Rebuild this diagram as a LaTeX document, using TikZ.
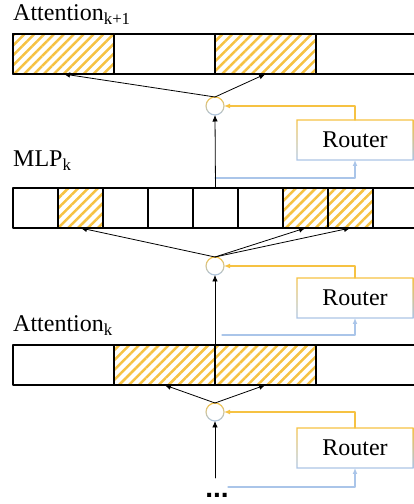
\documentclass[tikz,border=0pt]{standalone}
\usepackage{fontspec}
\setmainfont{Liberation Serif}
\newfontfamily\dotfont{Liberation Sans}
\usetikzlibrary{arrows.meta,patterns.meta}

\definecolor{gold}{RGB}{246,194,67}
\definecolor{skyline}{RGB}{170,197,233}

\begin{document}
\begin{tikzpicture}[
			x=1pt, y=1pt,
			every node/.style={font=\fontsize{24}{28}\selectfont},
			cell/.style={draw, line width=1.1pt, minimum height=40pt, inner sep=0pt, outer sep=0pt},
			hot/.style={pattern={Lines[angle=45,distance=7pt,line width=2.5pt]}, pattern color=gold},
			gate/.style={circle, minimum size=18pt, inner sep=0pt, outer sep=0pt},
			router/.style={minimum width=116pt, minimum height=40pt, inner sep=0pt, outer sep=0pt},
			arr/.style={-{Latex[length=6.5pt,width=5.5pt]}, line width=0.8pt},
			goldarr/.style={-{Latex[length=6pt,width=5pt]}, gold, line width=1.2pt},
			bluearr/.style={-{Latex[length=6pt,width=5pt]}, skyline, line width=1.2pt},
			line cap=round,
			line join=round
			]
			\useasboundingbox (0,0) rectangle (414,504);
			\clip (0,0) rectangle (414,504);
			
			% Layer labels
			\node[anchor=base west, inner sep=0pt] (lab1) at (13,483) {Attention\textsubscript{k+1}};
			\node[anchor=base west, inner sep=0pt] (lab2) at (13,337) {MLP\textsubscript{k}};
			\node[anchor=base west, inner sep=0pt] (lab3) at (13,172) {Attention\textsubscript{k}};
			
			% Attention k+1 heads
			\foreach \i in {1,...,4}
			\node[cell, minimum width=101pt] (a\i) at ({13+101*(\i-0.5)},450) {};
			\foreach \i in {1,3}
			\node[cell, hot, minimum width=101pt] at (a\i) {};
			
			% MLP k experts
			\foreach \i in {1,...,9}
			\node[cell, minimum width=45pt] (m\i) at ({13+45*(\i-0.5)},296) {};
			\foreach \i in {2,7,8}
			\node[cell, hot, minimum width=45pt] at (m\i) {};
			
			% Attention k heads
			\foreach \i in {1,...,4}
			\node[cell, minimum width=101pt] (k\i) at ({13+101*(\i-0.5)},139) {};
			\foreach \i in {2,3}
			\node[cell, hot, minimum width=101pt] at (k\i) {};
			
			% Gates and routers
			\node[gate] (g1) at (215,398) {};
			\node[gate] (g2) at (215,238) {};
			\node[gate] (g3) at (215,92) {};
			\foreach \n/\y in {1/364,2/206,3/56}
			\node[router] (r\n) at (355,\y) {Router};
			
			\foreach \n in {1,2,3} {
				\shade[top color=gold, bottom color=skyline, even odd rule]
				(g\n.center) circle (9.6) circle (8.4);
				\shade[top color=gold, bottom color=skyline, even odd rule]
				([shift={(-0.6,-0.6)}]r\n.south west) rectangle ([shift={(0.6,0.6)}]r\n.north east)
				([shift={(0.6,0.6)}]r\n.south west) rectangle ([shift={(-0.6,-0.6)}]r\n.north east);
			}
			
			% Input
			\node[font=\fontsize{28}{32}\dotfont\bfseries, anchor=base, inner sep=0pt] (dots) at (217,6) {...};
			\coordinate (in3) at (215,26);
			
			% Router inputs
			\coordinate (t1) at (215,326);
			\coordinate (t2) at (222,169);
			\coordinate (t3) at (228,17);
			\foreach \n in {1,2,3} {
				\draw[bluearr] (t\n) -| (r\n.south);
				\draw[goldarr] (r\n.north) |- (g\n.east);
			}
			
			% Data flow
			\draw[arr] (in3) -- (g3.south);
			\draw[arr] (g3.north) -- (k2.south);
			\draw[arr] (g3.north) -- (k3.south);
			\draw[arr] (k2.north east) -- (g2.south);
			\draw[arr] (g2.north) -- (m2.south);
			\draw[arr] (g2.north) -- (m7.south);
			\draw[arr] (g2.north) -- (m8.south);
			\draw[arr] (m5.north) -- (g1.south);
			\draw[arr] (g1.north) -- (a1.south);
			\draw[arr] (g1.north) -- (a3.south);
		\end{tikzpicture}
\end{document}
